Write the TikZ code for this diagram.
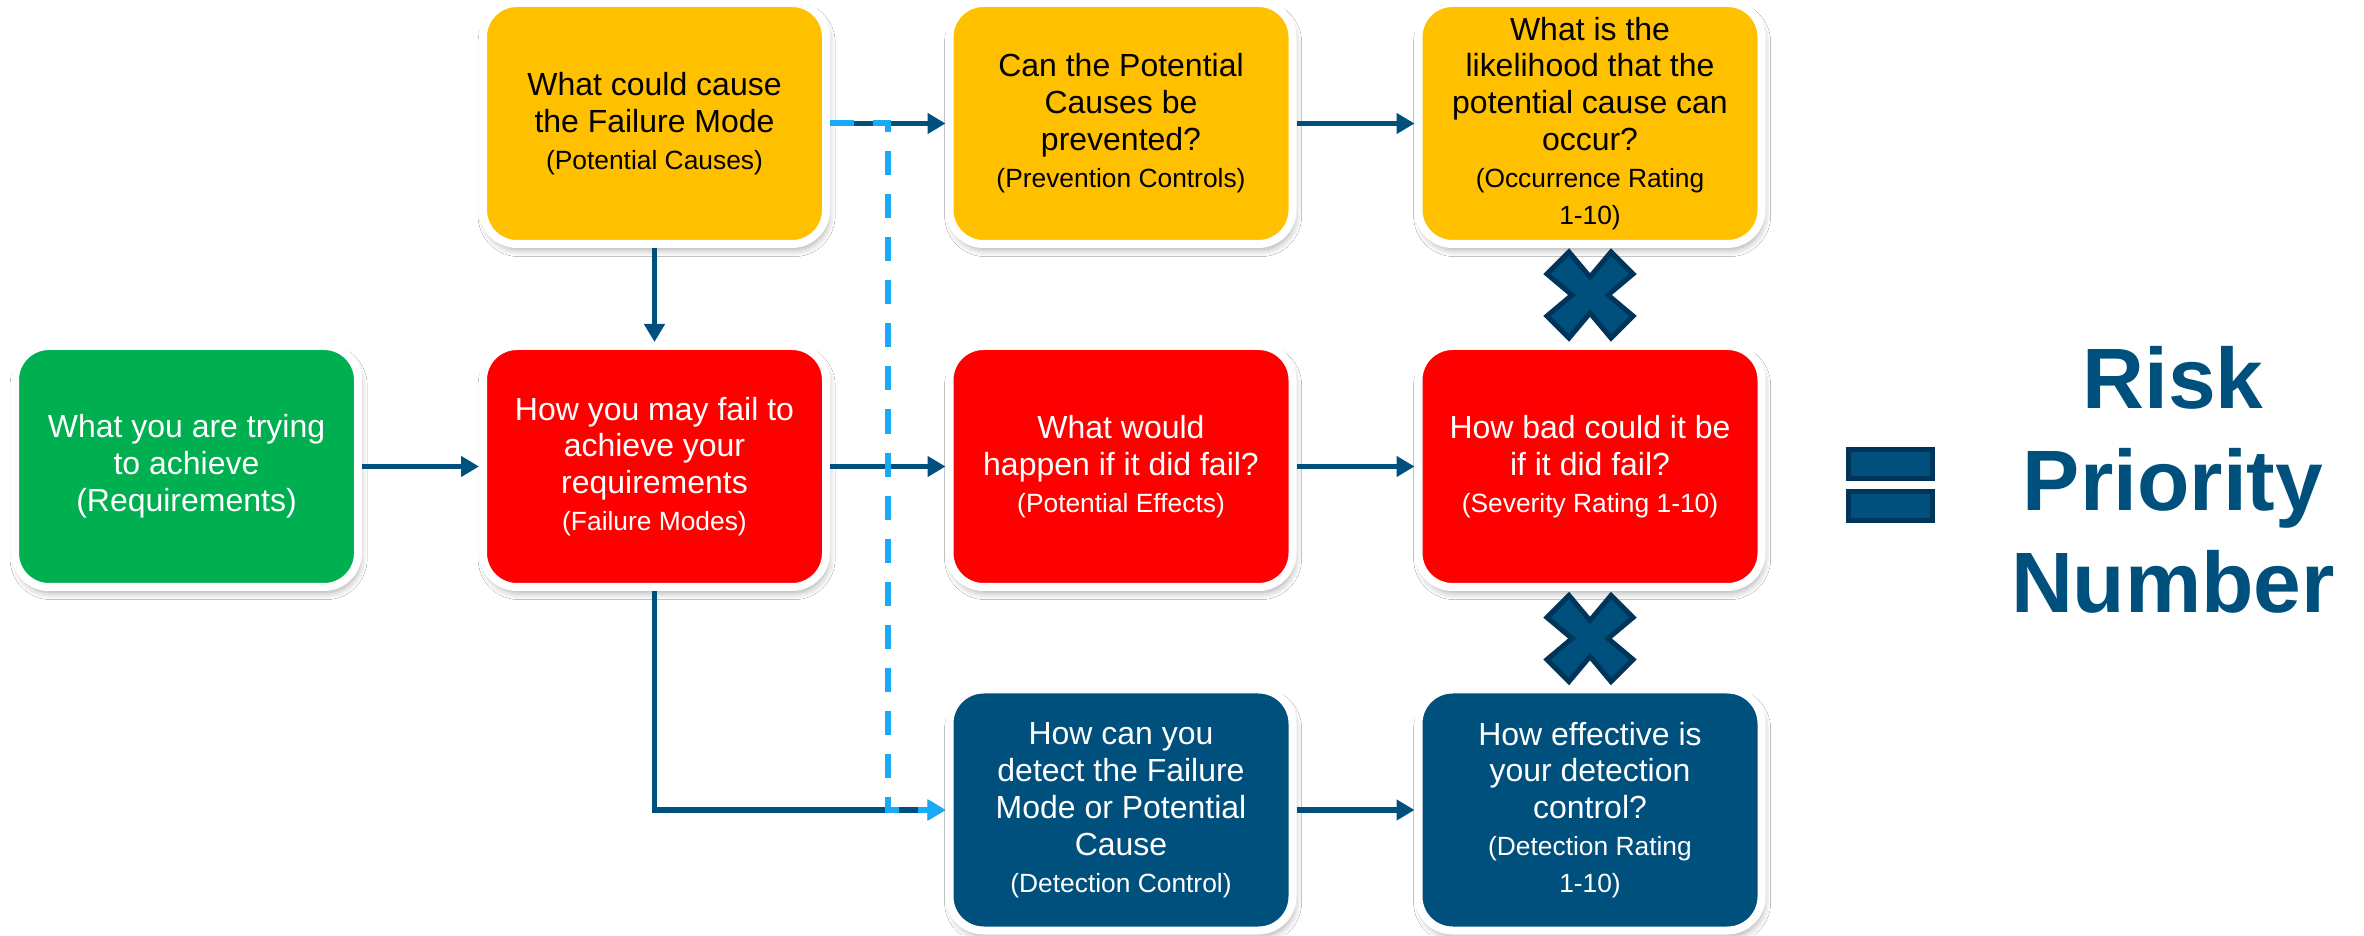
\documentclass[tikz,border=0pt]{standalone}
\usepackage{xcolor}
\usepackage{fontspec}
\setmainfont{Liberation Sans}
\usepackage{tikz}
\usetikzlibrary{graphs}
\usetikzlibrary{arrows.meta}
\usetikzlibrary{shadows.blur}

\definecolor{gul}{RGB}{255,192,0}
\definecolor{rod}{RGB}{255,0,0}
\definecolor{gronn}{RGB}{0,176,80}
\definecolor{marine}{RGB}{0,80,125}
\definecolor{mork}{RGB}{0,52,88}
\definecolor{lysbla}{RGB}{25,170,245}

\newcommand{\liten}[1]{{\fontsize{7.5}{9.1}\selectfont #1}}

\begin{document}
\begin{tikzpicture}[
    boks/.style={draw=white, line width=0.08cm, rounded corners=0.34cm,
        minimum width=3.43cm, minimum height=2.41cm, inner sep=0pt,
        align=center, font=\fontsize{9.1}{10.5}\selectfont,
        blur shadow={shadow xshift=0.6pt, shadow yshift=-1.6pt,
            shadow blur radius=2pt, shadow opacity=35}},
    gulboks/.style={boks, fill=gul, text=black},
    rodboks/.style={boks, fill=rod, text=white},
    gronnboks/.style={boks, fill=gronn, text=white},
    blaboks/.style={boks, fill=marine, text=white},
    pil/.style={draw=marine, line width=0.055cm},
    stiplet/.style={draw=lysbla, line width=0.06cm, dash pattern=on 0.24cm off 0.19cm, ->},
    kryss/.style={fill=marine, draw=mork, line width=0.05cm, line join=miter},
    >={Triangle[length=0.18cm, width=0.2cm]}, scale=1]
    \useasboundingbox[fill=white] (0,0) rectangle (23.64,9.35);

    %Boksene
    \node[gronnboks] (1) at (1.865,4.685) {What you are trying\\to achieve\\(Requirements)};
    \node[gulboks] (2) at (6.545,8.115) {What could cause\\the Failure Mode\\\liten{(Potential Causes)}};
    \node[rodboks] (3) at (6.545,4.685) {How you may fail to\\achieve your\\requirements\\\liten{(Failure Modes)}};
    \node[gulboks] (4) at (11.21,8.115) {Can the Potential\\Causes be\\prevented?\\\liten{(Prevention Controls)}};
    \node[rodboks] (5) at (11.21,4.685) {What would\\happen if it did fail?\\\liten{(Potential Effects)}};
    \node[gulboks] (6) at (15.90,8.115) {What is the\\likelihood that the\\potential cause can\\occur?\\\liten{(Occurrence Rating}\\\liten{1-10)}};
    \node[rodboks] (7) at (15.90,4.685) {How bad could it be\\if it did fail?\\\liten{(Severity Rating 1-10)}};
    \node[blaboks] (8) at (11.21,1.25) {How can you\\detect the Failure\\Mode or Potential\\Cause\\\liten{(Detection Control)}};
    \node[blaboks] (9) at (15.90,1.25) {How effective is\\your detection\\control?\\\liten{(Detection Rating}\\\liten{1-10)}};
    \node[font=\bfseries\fontsize{24.4}{29}\selectfont, text=marine, align=center] (10) at (21.73,4.55) {Risk\\Priority\\Number};
    \coordinate (knekk) at (8.88,1.25);

    %Pilene
    \graph[edges={pil}] {
        (1) -> (3) -> (5) -> (7);
        (2) -> (4) -> (6);
        (8) -> (9);
        (2) -> (3);
    };
    \draw[pil, ->] (3) |- (8);
    \draw[stiplet] (2.east) -| (knekk) -- (8);

    %Gange og likhetstegn
    \draw[kryss, shift={(15.90,6.40)}] (0,.18) -- (.21,.43) -- (.43,.21) -- (.18,0) -- (.43,-.21) -- (.21,-.43)
        -- (0,-.18) -- (-.21,-.43) -- (-.43,-.21) -- (-.18,0) -- (-.43,.21) -- (-.21,.43) -- cycle;
    \draw[kryss, shift={(15.90,2.965)}] (0,.18) -- (.21,.43) -- (.43,.21) -- (.18,0) -- (.43,-.21) -- (.21,-.43)
        -- (0,-.18) -- (-.21,-.43) -- (-.43,-.21) -- (-.18,0) -- (-.43,.21) -- (-.21,.43) -- cycle;
    \draw[kryss] (18.485,4.855) rectangle (19.325,4.565);
    \draw[kryss] (18.485,4.435) rectangle (19.325,4.145);
\end{tikzpicture}
\end{document}
